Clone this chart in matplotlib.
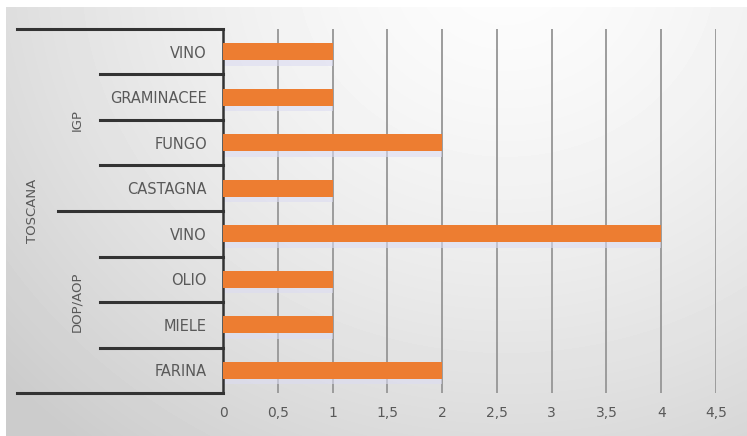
import numpy as np
import matplotlib
matplotlib.use("Agg")
import matplotlib.pyplot as plt

# products, top to bottom
products = ["VINO", "GRAMINACEE", "FUNGO", "CASTAGNA", "VINO", "OLIO", "MIELE", "FARINA"]
counts = [1, 1, 2, 1, 4, 1, 1, 2]
groups = ["IGP", "DOP/AOP"]
group_sizes = [4, 4]
region = "TOSCANA"
xticks = [0, 0.5, 1, 1.5, 2, 2.5, 3, 3.5, 4, 4.5]
xtick_labels = ["0", "0,5", "1", "1,5", "2", "2,5", "3", "3,5", "4", "4,5"]

W, H = 747, 436
fig = plt.figure(figsize=(W / 100, H / 100), dpi=100, facecolor="white")

# soft grey backdrop, lighter towards the top middle
bg = fig.add_axes([6 / W, 0, 1 - 6 / W, 1 - 7 / H], zorder=0)
yy, xx = np.mgrid[0:430, 0:741]
d = np.hypot(xx - 500, (yy + 40) * 1.1)
shade = np.clip(0.99 - 0.16 * (d / 600) ** 1.5, 0.8, 1)
bg.imshow(shade, cmap="gray", vmin=0, vmax=1, aspect="auto", interpolation="bilinear")
bg.axis("off")

x0, x1 = 223, 716
ytop, ybot = 29, 393
ax = fig.add_axes([x0 / W, (H - ybot) / H, (x1 - x0) / W, (ybot - ytop) / H], zorder=1)
ax.patch.set_alpha(0)

n = len(products)
ypos = np.arange(n)

ax.set_xlim(0, 4.5)
ax.set_ylim(n - 0.5, -0.5)
for x in xticks[1:]:
    ax.axvline(x, color="#9c9c9c", lw=1.4, zorder=1)

# faint shadow under each bar
ax.barh(ypos + 0.25, counts, height=0.12, color="#dcdcf2", alpha=0.6, zorder=2)
ax.barh(ypos, counts, height=0.37, color="#ed7d31", zorder=3)

for s in ["top", "right", "bottom"]:
    ax.spines[s].set_visible(False)
ax.spines["left"].set_color("#333333")
ax.spines["left"].set_linewidth(1.8)

ax.set_yticks(ypos)
ax.set_yticklabels(products)
ax.set_xticks(xticks)
ax.set_xticklabels(xtick_labels)
ax.tick_params(axis="y", length=0, pad=11.5, labelsize=10.5, labelcolor="#595959")
ax.tick_params(axis="x", length=0, pad=9, labelsize=10, labelcolor="#595959")

# multi-level category axis: separators and group labels
tr = ax.get_yaxis_transform()
def ax_x(px):
    return (px - x0) / (x1 - x0)

line_kw = dict(color="#333333", lw=2.2, transform=tr, clip_on=False, zorder=4)
ax.plot([ax_x(17), 0], [-0.5, -0.5], **line_kw)
ax.plot([ax_x(17), 0], [n - 0.5, n - 0.5], **line_kw)

start = 0
for g, size in zip(groups, group_sizes):
    for k in range(1, size):
        yb = start + k - 0.5
        ax.plot([ax_x(100), 0], [yb, yb], **line_kw)
    if start > 0:
        ax.plot([ax_x(58), 0], [start - 0.5, start - 0.5], **line_kw)
    ax.text(ax_x(77), start + (size - 1) / 2, g, rotation=90, transform=tr,
            ha="center", va="center", fontsize=9.5, color="#595959")
    start += size

ax.text(ax_x(32), (n - 1) / 2, region, rotation=90, transform=tr,
        ha="center", va="center", fontsize=9.5, color="#595959")

fig.savefig("out.png", dpi=100, facecolor=fig.get_facecolor())
